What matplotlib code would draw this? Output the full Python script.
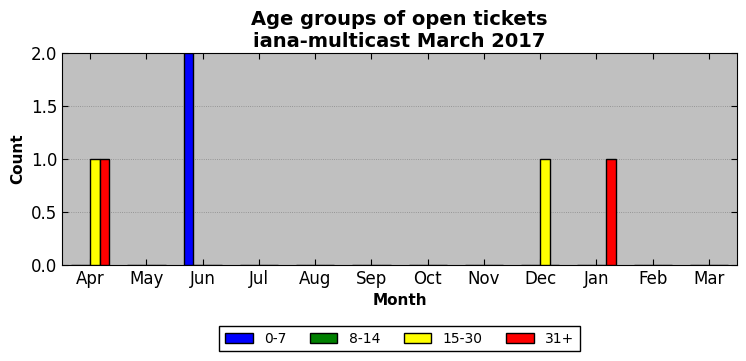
import matplotlib
matplotlib.use("Agg")
import matplotlib.pyplot as plt
import numpy as np

months = ["Apr", "May", "Jun", "Jul", "Aug", "Sep", "Oct", "Nov", "Dec", "Jan", "Feb", "Mar"]
groups = ["0-7", "8-14", "15-30", "31+"]
colors = ["blue", "green", "yellow", "red"]
age_0_7 = [0, 0, 2, 0, 0, 0, 0, 0, 0, 0, 0, 0]
age_8_14 = [0, 0, 0, 0, 0, 0, 0, 0, 0, 0, 0, 0]
age_15_30 = [1, 0, 0, 0, 0, 0, 0, 0, 1, 0, 0, 0]
age_31_plus = [1, 0, 0, 0, 0, 0, 0, 0, 0, 1, 0, 0]
series = [age_0_7, age_8_14, age_15_30, age_31_plus]

fig = plt.figure(figsize=(7.46, 3.61), dpi=100)
ax = fig.add_axes([62 / 746, 1 - 265 / 361, 675 / 746, 212 / 361])
ax.set_facecolor("#c0c0c0")

x = np.arange(len(months))
width = 0.17
for i, (vals, lab, c) in enumerate(zip(series, groups, colors)):
    ax.bar(x + (i - 2) * width, vals, width, align="edge", color=c,
           edgecolor="black", linewidth=1, label=lab, zorder=3)

ax.set_xlim(-0.5, 11.5)
ax.set_ylim(0, 2)
ax.set_yticks([0, 0.5, 1.0, 1.5, 2.0])
ax.set_xticks(x)
ax.set_xticklabels(months)
ax.tick_params(direction="in", top=True, right=True, labelsize=12, length=4)
ax.yaxis.grid(True, linestyle=":", color="#888888", linewidth=0.6, zorder=0)
ax.set_axisbelow(True)
ax.set_xlabel("Month", fontsize=11, fontweight="bold")
ax.set_ylabel("Count", fontsize=11, fontweight="bold")
ax.set_title("Age groups of open tickets\niana-multicast March 2017",
             fontsize=14, fontweight="bold", linespacing=1.2, pad=4)
leg = ax.legend(loc="upper center", bbox_to_anchor=(0.5, -0.255), ncol=4,
                fontsize=10, fancybox=False, framealpha=1,
                edgecolor="black", handlelength=2.0, handletextpad=0.8,
                columnspacing=1.7)
leg.get_frame().set_linewidth(1)

fig.savefig("out.png", dpi=100)
